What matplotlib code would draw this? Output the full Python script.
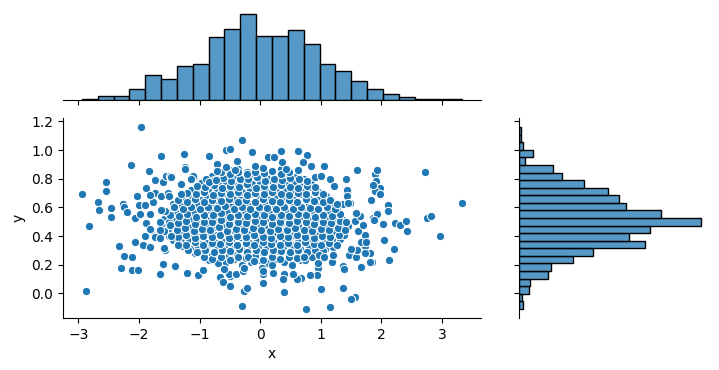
import numpy as np
import matplotlib
matplotlib.use("Agg")
from matplotlib import pyplot as plt

# scatter points (x, y); the dense middle is estimated
left_points = [
    (-1.97, 1.16), (-2.94, 0.695), (-2.82, 0.47), (-2.87, 0.017), (-2.67, 0.64), (-2.66, 0.58),
    (-2.54, 0.78), (-2.54, 0.716), (-2.46, 0.597), (-2.46, 0.534), (-2.33, 0.33), (-2.26, 0.625),
    (-2.24, 0.6), (-2.19, 0.57), (-2.25, 0.26), (-2.3, 0.18), (-2.11, 0.25), (-2.11, 0.166),
    (-2.02, 0.166), (-2.13, 0.893), (-2.07, 0.36), (-1.93, 0.336), (-2.07, 0.524), (-2.04, 0.68),
    (-2.0, 0.618), (-1.98, 0.557), (-1.885, 0.734), (-1.84, 0.856), (-1.9, 0.618), (-1.88, 0.49),
    (-1.9, 0.403), (-1.8, 0.445), (-1.82, 0.324), (-1.74, 0.788), (-1.73, 0.7), (-1.74, 0.392),
    (-1.64, 0.96), (-1.61, 0.779), (-1.66, 0.5), (-1.66, 0.138), (-1.61, 0.203), (-1.56, 0.82),
    (-1.57, 0.578), (-1.58, 0.434), (-1.57, 0.303), (-1.82, 0.557), (-1.77, 0.64), (-1.81, 0.685),
    (-1.64, 0.68), (-1.63, 0.58), (-1.52, 0.7), (-1.82, 0.452), (-1.65, 0.44), (-1.65, 0.385),
    (-1.58, 0.313), (-1.49, 0.82),
]
mid_points = [
    (-1.47, 0.81), (-1.5, 0.68), (-1.41, 0.19), (-1.43, 0.6), (-1.47, 0.4), (-1.48, 0.48),
    (-1.35, 0.338), (-1.26, 0.975), (-1.24, 0.88), (-1.3, 0.765), (-1.3, 0.695), (-1.19, 0.14),
    (-1.1, 0.81), (-1.02, 0.128), (-0.94, 0.163), (-0.84, 0.96), (-0.715, 0.9), (-0.655, 0.117),
    (-0.61, 0.08), (-0.557, 1.0), (-0.5, 1.01), (-0.5, 0.12), (-0.39, 0.926), (-0.49, 0.05),
    (-0.295, 1.073), (-0.295, -0.086), (-0.26, 0.017), (-0.22, 0.04), (-0.57, 0.884), (-1.24, 0.87),
    (-0.715, 0.856), (-0.42, 0.86), (-0.09, 0.89), (0.04, 0.872), (-1.11, 0.82), (-1.14, 0.8),
    (-0.84, 0.78), (-0.73, 0.79), (-0.52, 0.138), (-0.4, 0.133), (-0.59, 0.173), (-0.29, 0.159),
    (-0.2, 0.25), (-0.27, 0.18), (-0.1, 0.229), (-1.2, 0.145),
]
right_points = [
    (-0.13, 0.984), (0.13, 0.954), (0.23, 0.954), (0.345, 0.996), (0.36, 0.92), (0.62, 0.996),
    (0.78, 0.963), (0.7, 0.916), (0.84, 0.886), (1.05, 0.886), (1.59, 0.863), (1.41, 0.8),
    (1.9, 0.835), (1.92, 0.863), (1.91, 0.783), (1.86, 0.741), (1.98, 0.737), (1.9, 0.716),
    (1.97, 0.69), (1.83, 0.648), (1.43, 0.718), (1.44, 0.676), (1.49, 0.629), (1.37, 0.625),
    (2.11, 0.613), (2.11, 0.573), (1.93, 0.56), (1.86, 0.527), (2.03, 0.485), (2.22, 0.492),
    (2.31, 0.48), (2.41, 0.506), (2.43, 0.438), (2.72, 0.849), (2.75, 0.527), (2.82, 0.541),
    (2.97, 0.401), (3.33, 0.632), (2.04, 0.375), (2.21, 0.31), (2.13, 0.233), (1.85, 0.217),
    (1.81, 0.282), (1.66, 0.185), (1.57, -0.023), (1.5, -0.04), (1.37, 0.038), (1.16, -0.095),
    (1.01, 0.031), (0.754, -0.109), (0.39, 0.012), (0.05, 0.073), (1.36, 0.19), (1.39, 0.167),
    (1.18, 0.222), (0.96, 0.18), (0.95, 0.21), (0.84, 0.128), (0.93, 0.128), (0.67, 0.105),
    (0.6, 0.1), (0.54, 0.138), (0.4, 0.136), (0.37, 0.1), (0.21, 0.143), (0.2, 0.2),
    (0.04, 0.136), (0.03, 0.18), (0.52, 0.2), (0.73, 0.25), (0.97, 0.27), (1.06, 0.25),
    (1.2, 0.27), (1.47, 0.27), (1.58, 0.25), (1.73, 0.33), (1.6, 0.3), (1.5, 0.31),
    (1.67, 0.36), (1.73, 0.405), (1.62, 0.434), (1.7, 0.48), (1.56, 0.505), (1.64, 0.54),
    (1.58, 0.56), (0.63, 0.86), (0.42, 0.865), (1.15, 0.8), (0.91, 0.814), (1.01, 0.82),
    (1.21, 0.748), (1.45, 0.632), (1.26, 0.622), (1.92, 0.557), (1.86, 0.755), (1.87, 0.515),
    (0.83, 0.126), (1.81, 0.22), (1.75, 0.36), (1.73, 0.28), (0.05, 0.157),
]
core_points = [
    (-0.84, 0.23), (-0.7, 0.21), (-0.57, 0.22), (-0.43, 0.24), (-0.3, 0.2), (-0.15, 0.22),
    (-0.02, 0.23), (0.12, 0.21), (0.26, 0.24), (0.4, 0.22), (0.53, 0.2), (0.68, 0.23),
    (-1.08, 0.28), (-0.95, 0.26), (-0.8, 0.27), (-0.66, 0.29), (-0.52, 0.26), (-0.38, 0.27),
    (-0.24, 0.28), (-0.1, 0.26), (0.05, 0.28), (0.19, 0.27), (0.33, 0.29), (0.47, 0.26),
    (0.61, 0.28), (0.75, 0.27), (0.88, 0.26), (1.0, 0.29),
    (-1.29, 0.33), (-1.15, 0.31), (-1.02, 0.32), (-0.88, 0.34), (-0.73, 0.31), (-0.6, 0.32),
    (-0.46, 0.33), (-0.31, 0.31), (-0.17, 0.34), (-0.04, 0.32), (0.1, 0.31), (0.24, 0.33),
    (0.38, 0.32), (0.52, 0.34), (0.66, 0.31), (0.8, 0.32), (0.93, 0.33), (1.07, 0.31), (1.2, 0.32),
    (-1.44, 0.37), (-1.3, 0.36), (-1.17, 0.38), (-1.03, 0.37), (-0.9, 0.35), (-0.76, 0.38),
    (-0.62, 0.36), (-0.48, 0.37), (-0.34, 0.39), (-0.2, 0.36), (-0.06, 0.37), (0.08, 0.38),
    (0.22, 0.36), (0.35, 0.37), (0.49, 0.39), (0.63, 0.36), (0.77, 0.37), (0.91, 0.38),
    (1.04, 0.36), (1.18, 0.37), (1.31, 0.38),
    (-1.55, 0.42), (-1.41, 0.41), (-1.27, 0.43), (-1.13, 0.42), (-0.99, 0.4), (-0.85, 0.43),
    (-0.71, 0.41), (-0.57, 0.42), (-0.43, 0.44), (-0.29, 0.41), (-0.15, 0.42), (-0.01, 0.43),
    (0.13, 0.41), (0.27, 0.42), (0.41, 0.44), (0.55, 0.41), (0.69, 0.42), (0.83, 0.43),
    (0.97, 0.41), (1.11, 0.42), (1.25, 0.43), (1.39, 0.41),
    (-1.6, 0.47), (-1.47, 0.46), (-1.33, 0.48), (-1.19, 0.47), (-1.05, 0.45), (-0.91, 0.48),
    (-0.77, 0.46), (-0.63, 0.47), (-0.49, 0.49), (-0.35, 0.46), (-0.21, 0.47), (-0.07, 0.48),
    (0.07, 0.46), (0.21, 0.47), (0.35, 0.49), (0.49, 0.46), (0.63, 0.47), (0.77, 0.48),
    (0.91, 0.46), (1.05, 0.47), (1.19, 0.48), (1.33, 0.46), (1.45, 0.47),
    (-1.58, 0.52), (-1.44, 0.51), (-1.3, 0.53), (-1.16, 0.52), (-1.02, 0.5), (-0.88, 0.53),
    (-0.74, 0.51), (-0.6, 0.52), (-0.46, 0.54), (-0.32, 0.51), (-0.18, 0.52), (-0.04, 0.53),
    (0.1, 0.51), (0.24, 0.52), (0.38, 0.54), (0.52, 0.51), (0.66, 0.52), (0.8, 0.53),
    (0.94, 0.51), (1.08, 0.52), (1.22, 0.53), (1.36, 0.51),
    (-1.53, 0.57), (-1.39, 0.56), (-1.25, 0.58), (-1.11, 0.57), (-0.97, 0.55), (-0.83, 0.58),
    (-0.69, 0.56), (-0.55, 0.57), (-0.41, 0.59), (-0.27, 0.56), (-0.13, 0.57), (0.01, 0.58),
    (0.15, 0.56), (0.29, 0.57), (0.43, 0.59), (0.57, 0.56), (0.71, 0.57), (0.85, 0.58),
    (0.99, 0.56), (1.13, 0.57), (1.27, 0.58),
    (-1.44, 0.62), (-1.3, 0.61), (-1.16, 0.63), (-1.02, 0.62), (-0.88, 0.6), (-0.74, 0.63),
    (-0.6, 0.61), (-0.46, 0.62), (-0.32, 0.64), (-0.18, 0.61), (-0.04, 0.62), (0.1, 0.63),
    (0.24, 0.61), (0.38, 0.62), (0.52, 0.64), (0.66, 0.61), (0.8, 0.62), (0.94, 0.63),
    (1.08, 0.61), (1.22, 0.62),
    (-1.29, 0.67), (-1.15, 0.66), (-1.01, 0.68), (-0.87, 0.67), (-0.73, 0.65), (-0.59, 0.68),
    (-0.45, 0.66), (-0.31, 0.67), (-0.17, 0.69), (-0.03, 0.66), (0.11, 0.67), (0.25, 0.68),
    (0.39, 0.66), (0.53, 0.67), (0.67, 0.69), (0.81, 0.66), (0.95, 0.67), (1.09, 0.68),
    (-1.14, 0.72), (-1.0, 0.71), (-0.86, 0.73), (-0.72, 0.72), (-0.58, 0.7), (-0.44, 0.73),
    (-0.3, 0.71), (-0.16, 0.72), (-0.02, 0.74), (0.12, 0.71), (0.26, 0.72), (0.4, 0.73),
    (0.54, 0.71), (0.68, 0.72), (0.82, 0.74), (0.96, 0.71),
    (-0.98, 0.77), (-0.84, 0.76), (-0.7, 0.78), (-0.56, 0.77), (-0.42, 0.75), (-0.28, 0.78),
    (-0.14, 0.76), (0.0, 0.77), (0.14, 0.79), (0.28, 0.76), (0.42, 0.77), (0.56, 0.78),
    (0.7, 0.76), (0.84, 0.77),
    (-0.8, 0.82), (-0.66, 0.81), (-0.52, 0.83), (-0.38, 0.82), (-0.24, 0.8), (-0.1, 0.83),
    (0.04, 0.81), (0.18, 0.82), (0.32, 0.84), (0.46, 0.81), (0.6, 0.82), (0.72, 0.8),
    (-0.5, 0.86), (-0.36, 0.87), (-0.22, 0.85), (-0.08, 0.88), (0.06, 0.86), (0.2, 0.85), (0.34, 0.87),
]
core_points_b = [
    (-0.93, 0.25), (-0.79, 0.24), (-0.65, 0.255), (-0.5, 0.235), (-0.36, 0.25), (-0.23, 0.245),
    (-0.09, 0.26), (0.05, 0.235), (0.19, 0.25), (0.33, 0.24), (0.47, 0.255), (0.6, 0.245),
    (0.74, 0.235), (0.86, 0.25),
    (-1.19, 0.3), (-1.05, 0.29), (-0.91, 0.305), (-0.77, 0.285), (-0.63, 0.3), (-0.49, 0.295),
    (-0.35, 0.31), (-0.21, 0.285), (-0.07, 0.3), (0.07, 0.29), (0.21, 0.305), (0.35, 0.295),
    (0.49, 0.285), (0.63, 0.3), (0.77, 0.29), (0.91, 0.305), (1.04, 0.295),
    (-1.36, 0.35), (-1.22, 0.34), (-1.08, 0.355), (-0.94, 0.335), (-0.8, 0.35), (-0.66, 0.345),
    (-0.52, 0.36), (-0.38, 0.335), (-0.24, 0.35), (-0.1, 0.34), (0.04, 0.355), (0.18, 0.345),
    (0.32, 0.335), (0.46, 0.35), (0.6, 0.34), (0.74, 0.355), (0.88, 0.345), (1.01, 0.335),
    (1.14, 0.35), (1.26, 0.34),
    (-1.5, 0.4), (-1.36, 0.39), (-1.22, 0.405), (-1.08, 0.385), (-0.94, 0.4), (-0.8, 0.395),
    (-0.66, 0.41), (-0.52, 0.385), (-0.38, 0.4), (-0.24, 0.39), (-0.1, 0.405), (0.04, 0.395),
    (0.18, 0.385), (0.32, 0.4), (0.46, 0.39), (0.6, 0.405), (0.74, 0.395), (0.88, 0.385),
    (1.02, 0.4), (1.16, 0.39), (1.3, 0.405),
    (-1.52, 0.45), (-1.38, 0.44), (-1.24, 0.455), (-1.1, 0.435), (-0.96, 0.45), (-0.82, 0.445),
    (-0.68, 0.46), (-0.54, 0.435), (-0.4, 0.45), (-0.26, 0.44), (-0.12, 0.455), (0.02, 0.445),
    (0.16, 0.435), (0.3, 0.45), (0.44, 0.44), (0.58, 0.455), (0.72, 0.445), (0.86, 0.435),
    (1.0, 0.45), (1.14, 0.44), (1.28, 0.455), (1.4, 0.445),
    (-1.5, 0.5), (-1.36, 0.49), (-1.22, 0.505), (-1.07, 0.485), (-0.93, 0.5), (-0.79, 0.495),
    (-0.65, 0.51), (-0.51, 0.485), (-0.37, 0.5), (-0.23, 0.49), (-0.09, 0.505), (0.05, 0.495),
    (0.19, 0.485), (0.33, 0.5), (0.47, 0.49), (0.61, 0.505), (0.75, 0.495), (0.89, 0.485),
    (1.03, 0.5), (1.17, 0.49), (1.31, 0.505), (1.42, 0.495),
    (-1.48, 0.55), (-1.34, 0.54), (-1.2, 0.555), (-1.06, 0.535), (-0.92, 0.55), (-0.78, 0.545),
    (-0.64, 0.56), (-0.5, 0.535), (-0.36, 0.55), (-0.22, 0.54), (-0.08, 0.555), (0.06, 0.545),
    (0.2, 0.535), (0.34, 0.55), (0.48, 0.54), (0.62, 0.555), (0.76, 0.545), (0.9, 0.535),
    (1.04, 0.55), (1.18, 0.54), (1.32, 0.555),
    (-1.42, 0.6), (-1.28, 0.59), (-1.14, 0.605), (-1.0, 0.585), (-0.86, 0.6), (-0.72, 0.595),
    (-0.58, 0.61), (-0.44, 0.585), (-0.3, 0.6), (-0.16, 0.59), (-0.02, 0.605), (0.12, 0.595),
    (0.26, 0.585), (0.4, 0.6), (0.54, 0.59), (0.68, 0.605), (0.82, 0.595), (0.96, 0.585),
    (1.1, 0.6), (1.24, 0.59),
    (-1.35, 0.65), (-1.21, 0.64), (-1.07, 0.655), (-0.93, 0.635), (-0.79, 0.65), (-0.65, 0.645),
    (-0.51, 0.66), (-0.37, 0.635), (-0.23, 0.65), (-0.09, 0.64), (0.05, 0.655), (0.19, 0.645),
    (0.33, 0.635), (0.47, 0.65), (0.61, 0.64), (0.75, 0.655), (0.89, 0.645), (1.03, 0.635),
    (1.16, 0.65),
    (-1.2, 0.7), (-1.06, 0.69), (-0.92, 0.705), (-0.78, 0.685), (-0.64, 0.7), (-0.5, 0.695),
    (-0.36, 0.71), (-0.22, 0.685), (-0.08, 0.7), (0.06, 0.69), (0.2, 0.705), (0.34, 0.695),
    (0.48, 0.685), (0.62, 0.7), (0.76, 0.69), (0.9, 0.705), (1.03, 0.695),
    (-1.05, 0.75), (-0.91, 0.74), (-0.77, 0.755), (-0.63, 0.735), (-0.49, 0.75), (-0.35, 0.745),
    (-0.21, 0.76), (-0.07, 0.735), (0.07, 0.75), (0.21, 0.74), (0.35, 0.755), (0.49, 0.745),
    (0.63, 0.735), (0.77, 0.75), (0.9, 0.74),
    (-0.9, 0.8), (-0.76, 0.79), (-0.62, 0.805), (-0.48, 0.785), (-0.34, 0.8), (-0.2, 0.795),
    (-0.06, 0.81), (0.08, 0.785), (0.22, 0.8), (0.36, 0.79), (0.5, 0.805), (0.64, 0.795),
    (0.78, 0.785),
    (-0.64, 0.845), (-0.5, 0.835), (-0.36, 0.85), (-0.22, 0.83), (-0.08, 0.845), (0.06, 0.84),
    (0.2, 0.855), (0.34, 0.83), (0.48, 0.845),
]

# marginal histogram counts (24 bins each)
x_counts = [2, 5, 5, 15, 35, 29, 47, 50, 88, 99, 120, 89, 89, 98, 79, 51, 40, 26, 15, 8, 4, 2, 2, 1]
y_counts = [3, 2, 7, 8, 21, 23, 39, 54, 92, 80, 96, 133, 104, 78, 73, 65, 47, 31, 25, 4, 10, 3, 1, 1]

pts = np.array(core_points + core_points_b + left_points + mid_points + right_points)
xs, ys = pts[:, 0], pts[:, 1]
x_edges = np.linspace(xs.min(), xs.max(), len(x_counts) + 1)
y_edges = np.linspace(ys.min(), ys.max(), len(y_counts) + 1)

blue = '#1f77b4'
bar_face = (0.122, 0.467, 0.706, 0.75)

fig = plt.figure(figsize=(7.19, 3.70), dpi=100)
ax = fig.add_axes([0.0876, 0.1405, 0.5814, 0.5405])
ax_top = fig.add_axes([0.0876, 0.7297, 0.5814, 0.2433], sharex=ax)
ax_right = fig.add_axes([0.7223, 0.1405, 0.2652, 0.5405], sharey=ax)

ax.scatter(xs, ys, s=36, color=blue, edgecolors='white', linewidths=0.75)
ax.set_xlabel('x')
ax.set_ylabel('y')
for s in ['top', 'right']:
    ax.spines[s].set_visible(False)

ax_top.bar(x_edges[:-1], x_counts, width=np.diff(x_edges), align='edge',
           facecolor=bar_face, edgecolor='black', linewidth=1)
ax_top.set_ylim(0, max(x_counts) * 1.05)
ax_top.tick_params(labelbottom=False, left=False, labelleft=False)
for s in ['top', 'right', 'left']:
    ax_top.spines[s].set_visible(False)

ax_right.barh(y_edges[:-1], y_counts, height=np.diff(y_edges), align='edge',
              facecolor=bar_face, edgecolor='black', linewidth=1)
ax_right.set_xlim(0, max(y_counts) * 1.05)
ax_right.tick_params(labelleft=False, bottom=False, labelbottom=False)
for s in ['top', 'right', 'bottom']:
    ax_right.spines[s].set_visible(False)

ax.set_xticks([-3, -2, -1, 0, 1, 2, 3])
ax.set_yticks([0.0, 0.2, 0.4, 0.6, 0.8, 1.0, 1.2])

fig.savefig('out.png', dpi=100)
